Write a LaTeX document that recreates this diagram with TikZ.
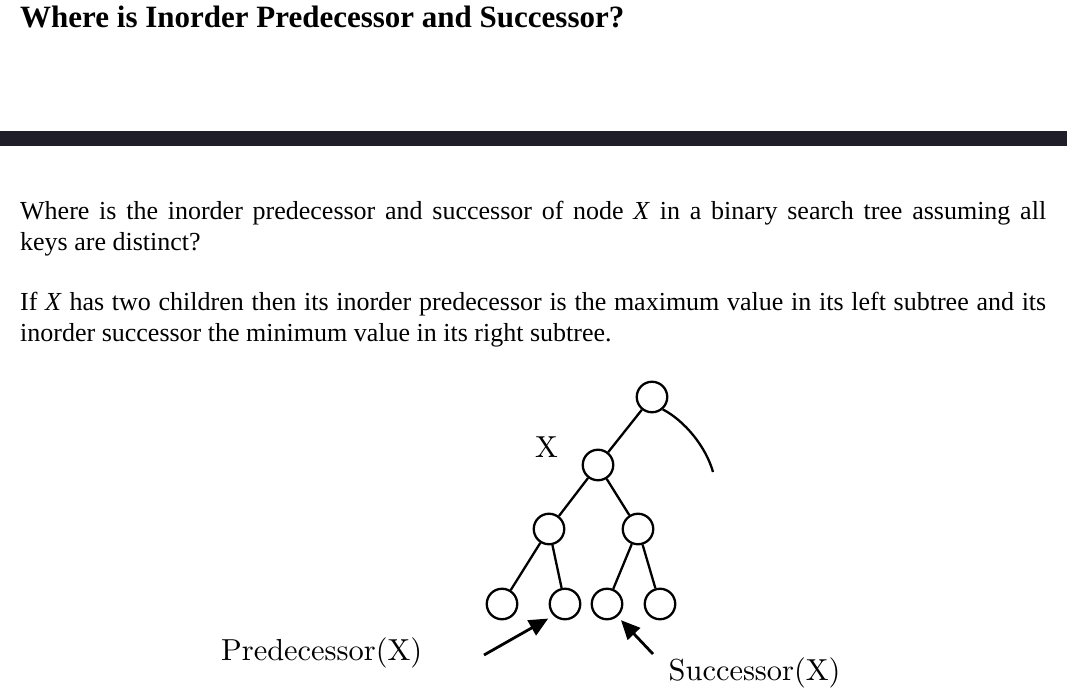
\documentclass[tikz,border=0pt]{standalone}
\usepackage{fontspec}
\setmainfont{Liberation Serif}
\newfontfamily\lmfont{lmroman10-regular.otf}
\usetikzlibrary{arrows.meta}
\tikzset{>={Triangle[length=19pt,width=17pt]}}
\definecolor{bardark}{HTML}{1F1E29}

\begin{document}
\begin{tikzpicture}[x=1pt,y=-1pt,
  para/.style={anchor=base west, inner sep=0pt, text width=1026pt,
    align=justify, font=\fontsize{26}{31}\selectfont\sloppy},
  bst/.style={circle, draw, line width=2.3pt, minimum size=30.5pt,
    inner sep=0pt},
  edge/.style={line width=2.3pt},
  pointer/.style={->, line width=2.8pt},
  tag/.style={anchor=base, inner sep=0pt,
    font=\lmfont\fontsize{30.4}{30.4}\selectfont}]

  \useasboundingbox (0,0) rectangle (1067,700);

  %% heading and rule
  \node[anchor=base west, inner sep=0pt,
    font=\fontsize{31}{31}\selectfont\bfseries] (title) at (20,28)
    {Where is Inorder Predecessor and Successor?};
  \fill[bardark] (0,131) rectangle (1067,146);

  %% text
  \node[para] (question) at (20,220) {Where is the inorder predecessor and
    successor of node \textit{X} in a binary search tree assuming all\linebreak
    keys are distinct?};
  \node[para] (answer) at (20,311) {If \textit{X} has two children then its
    inorder predecessor is the maximum value in its left subtree and its\linebreak
    inorder successor the minimum value in its right subtree.};

  %% tree
  \node[bst] (root) at (652,397) {};
  \node[bst] (x)    at (598,465) {};
  \node[bst] (xl)   at (549,529) {};
  \node[bst] (xr)   at (638,529) {};
  \node[bst] (xll)  at (502,604) {};
  \node[bst] (xlr)  at (565,604) {};
  \node[bst] (xrl)  at (607,604) {};
  \node[bst] (xrr)  at (660,604) {};
  \coordinate (rest) at (713,472);

  \draw[edge] (root) -- (x);
  \draw[edge] (root.-49) .. controls (685,421) and (706,447) .. (rest);
  \draw[edge] (x) -- (xl);
  \draw[edge] (x) -- (xr);
  \draw[edge] (xl) -- (xll);
  \draw[edge] (xl) -- (xlr);
  \draw[edge] (xr) -- (xrl);
  \draw[edge] (xr) -- (xrr);

  \node[tag] (xname) at (546.5,457.3) {X};

  %% pointers
  \node[tag, anchor=base west] (pred) at (221,660) {Predecessor(X)};
  \node[tag, anchor=base west] (succ) at (668.5,680) {Successor(X)};
  \coordinate (predtail) at (484,655);
  \coordinate (succtail) at (653,654);
  \draw[pointer, shorten >=6pt] (predtail) -- (xlr.-135);
  \draw[pointer, shorten >=5pt] (succtail) -- (xrl.-50);

\end{tikzpicture}
\end{document}
